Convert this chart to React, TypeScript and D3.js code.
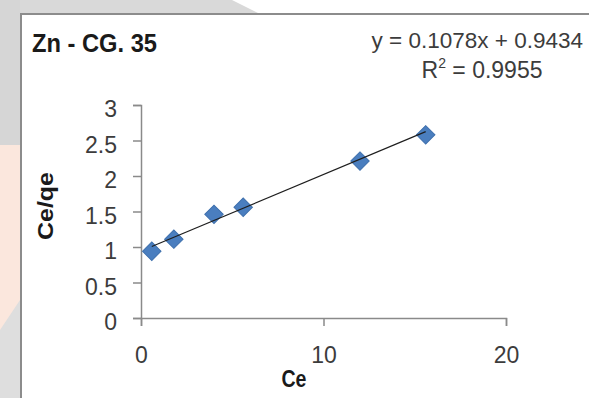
import { useRef, useEffect } from "react";
import * as d3 from "d3";

// Langmuir plot values
const ceValues = [0.59, 1.8, 4.0, 5.6, 12.0, 15.6];
const ceQeValues = [0.94, 1.11, 1.46, 1.56, 2.21, 2.58];
const xTicks = [0, 10, 20];
const yTicks = [0, 0.5, 1, 1.5, 2, 2.5, 3];
const slope = 0.1078;
const intercept = 0.9434;
const chartTitle = "Zn - CG. 35";
const equationText = "y = 0.1078x + 0.9434";
const r2Value = "0.9955";
const xTitle = "Ce";
const yTitle = "Ce/qe";

const W = 589;
const H = 398;
const font = "'Liberation Sans', Arial, sans-serif";

export default function App() {
     const xAxisRef = useRef<SVGGElement | null>(null);
     const yAxisRef = useRef<SVGGElement | null>(null);

     const xScale = d3.scaleLinear().domain([0, 20]).range([141, 506]);
     const yScale = d3.scaleLinear().domain([0, 3]).range([318, 105]);

     const points = ceValues.map((c, i) => ({ x: c, y: ceQeValues[i] }));
     const xMin = d3.min(ceValues)!;
     const xMax = d3.max(ceValues)!;
     const trend = [
          { x: xMin, y: slope * xMin + intercept },
          { x: xMax, y: slope * xMax + intercept },
     ];
     const line = d3.line<{ x: number; y: number }>()
          .x(d => xScale(d.x))
          .y(d => yScale(d.y));
     const diamond = d3.symbol(d3.symbolSquare, 170)();

     useEffect(() => {
          const xAxis = d3.axisBottom(xScale)
               .tickValues(xTicks)
               .tickSize(8)
               .tickFormat(d => String(d));
          const yAxis = d3.axisLeft(yScale)
               .tickValues(yTicks)
               .tickSize(8)
               .tickFormat(d => String(d));

          const gx = d3.select(xAxisRef.current!);
          gx.call(xAxis);
          const gy = d3.select(yAxisRef.current!);
          gy.call(yAxis);

          [gx, gy].forEach(g => {
               g.attr("font-family", font).attr("font-size", 23);
               g.select(".domain").attr("stroke", "#8a8a8a").attr("stroke-width", 1.5);
               g.selectAll(".tick line").attr("stroke", "#8a8a8a").attr("stroke-width", 1.5);
               g.selectAll(".tick text").attr("fill", "#3c3c3c");
          });
          gx.selectAll(".tick text").attr("y", 45).attr("dy", 0);
          gy.selectAll(".tick text").attr("x", -24).attr("dy", "0.5em");
     }, []);

     return (
          <div style={{ position: "fixed", left: 0, top: 0 }}>
               <svg width={W} height={H} style={{ display: "block" }}>
                    <rect x={0} y={0} width={W} height={H} fill="#ffffff" />
                    {/* background of the page the chart was cut from */}
                    <polygon points="0,0 232,0 258,13 0,13" fill="#d9d9d9" />
                    <rect x={0} y={0} width={20} height={145} fill="#d6d6d6" />
                    <rect x={0} y={145} width={20} height={185} fill="#fbe7dd" />
                    <polygon points="0,330 20,300 20,398 0,398" fill="#dedede" />

                    <rect x={21} y={14} width={620} height={420} fill="none" stroke="#8c8c8c" strokeWidth={2} />

                    <text x={32} y={52} fontFamily={font} fontWeight="bold" fontSize={25}
                         fill="#1a1a1a" textLength={125} lengthAdjust="spacingAndGlyphs">{chartTitle}</text>

                    <text x={583} y={48} fontFamily={font} fontSize={22.5} fill="#3c3c3c"
                         textAnchor="end">{equationText}</text>
                    <text x={482} y={78} fontFamily={font} fontSize={23} fill="#3c3c3c" textAnchor="middle">
                         R<tspan fontSize={14} dy={-10}>2</tspan><tspan dy={10}>{" = " + r2Value}</tspan>
                    </text>

                    <g ref={xAxisRef} transform={`translate(0,${yScale(0)})`} />
                    <g ref={yAxisRef} transform={`translate(${xScale(0)},0)`} />

                    <text transform="translate(53,206) rotate(-90)" textAnchor="middle" fontFamily={font}
                         fontWeight="bold" fontSize={22} fill="#1a1a1a" textLength={68}
                         lengthAdjust="spacingAndGlyphs">{yTitle}</text>
                    <text x={294} y={387} textAnchor="middle" fontFamily={font} fontWeight="bold"
                         fontSize={23} fill="#1a1a1a" textLength={25} lengthAdjust="spacingAndGlyphs">{xTitle}</text>

                    {points.map((p, i) => (
                         <path key={i} d={diamond!}
                              transform={`translate(${xScale(p.x)},${yScale(p.y)}) rotate(45)`}
                              fill="#4a7ebf" stroke="#3f70ad" strokeWidth={1} />
                    ))}
                    <path d={line(trend)!} fill="none" stroke="#1e1e1e" strokeWidth={1.2} />
               </svg>
          </div>
     );
}
